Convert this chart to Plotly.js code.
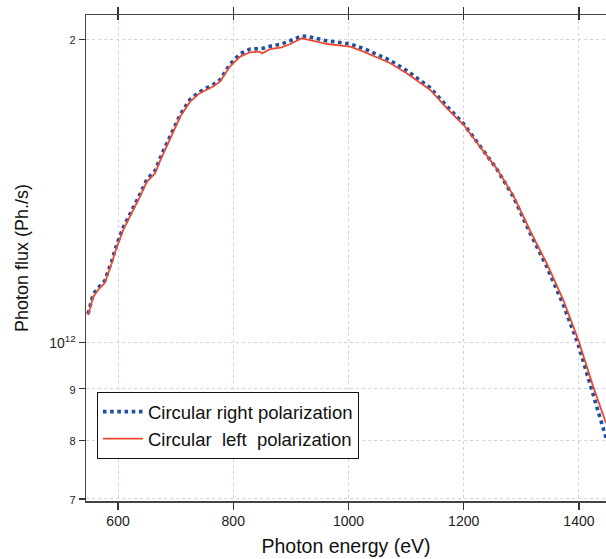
<!DOCTYPE html>
<html>
<head>
<meta charset="utf-8">
<script src="https://cdn.plot.ly/plotly-3.0.1.min.js"></script>
<style>html,body{margin:0;padding:0;background:#fff;}#chart{width:606px;height:559px;}</style>
</head>
<body>
<div id="chart"></div>
<script>
// Photon energy (eV)
const energy = [548,557,568,577,589,598,609,627,638,650,664,676,690,708,725,742,765,777,794,812,829,846,850,864,884,899,919,928,945,963,985,1003,1026,1049,1072,1101,1124,1142,1171,1200,1228,1257,1286,1315,1344,1373,1399,1425,1447];
// Circular right polarization flux (x1e12 Ph./s)
const rightPol = [1.068,1.118,1.137,1.152,1.205,1.252,1.301,1.362,1.403,1.452,1.480,1.538,1.598,1.684,1.743,1.774,1.803,1.822,1.888,1.935,1.955,1.960,1.958,1.968,1.978,1.993,2.015,2.013,2.003,1.992,1.985,1.978,1.958,1.933,1.906,1.862,1.820,1.790,1.716,1.648,1.568,1.488,1.396,1.285,1.190,1.090,0.995,0.888,0.805];
// Circular left polarization flux (x1e12 Ph./s)
const leftPol = [1.065,1.111,1.133,1.146,1.199,1.245,1.294,1.354,1.396,1.444,1.472,1.529,1.589,1.676,1.734,1.768,1.795,1.815,1.879,1.922,1.941,1.944,1.936,1.955,1.963,1.978,2.004,2.000,1.989,1.978,1.973,1.966,1.944,1.919,1.894,1.850,1.809,1.781,1.708,1.644,1.565,1.489,1.400,1.292,1.199,1.102,1.006,0.904,0.832];
const scale = 1e12;
const yTickVals = [7e11, 8e11, 9e11, 1e12, 2e12];
const yTickText = ['<span style="font-size:11px">7</span>','<span style="font-size:11px">8</span>','<span style="font-size:11px">9</span>','10<sup>12</sup>','<span style="font-size:11px">2</span>'];
const xTickVals = [600, 800, 1000, 1200, 1400];

const traces = [
  {x: energy, y: rightPol.map(v => v*scale), type: 'scatter', mode: 'lines', name: 'Circular right polarization',
   line: {color: '#1e4fa3', width: 3.6, dash: 'dot'}},
  {x: energy, y: leftPol.map(v => v*scale), type: 'scatter', mode: 'lines', name: 'Circular  left  polarization',
   line: {color: '#ec4a33', width: 1.8}}
];

const fam = 'Liberation Sans, Arial, sans-serif';
const axisFont = {family: fam, size: 14, color: '#222'};
const layout = {
  width: 606, height: 559,
  margin: {l: 86, r: 0, t: 15, b: 58},
  paper_bgcolor: '#fff', plot_bgcolor: '#fff',
  font: axisFont,
  showlegend: true,
  legend: {x: 0.021, y: 0.224, xanchor: 'left', yanchor: 'top', bgcolor: '#fff', bordercolor: '#111', borderwidth: 1,
           font: {family: fam, size: 18.5, color: '#111'}, tracegroupgap: 0, itemwidth: 40},
  xaxis: {
    range: [544.4, 1447], tickvals: xTickVals, ticks: 'outside', ticklen: 7, tickwidth: 1.3, tickcolor: '#333',
    showline: true, linecolor: '#444', linewidth: 1.5, mirror: 'ticks',
    showgrid: true, gridcolor: '#d0d0ec', griddash: 'dot', gridwidth: 1, zeroline: false,
    tickfont: axisFont,
    title: {text: 'Photon energy (eV)', font: {family: fam, size: 19.5, color: '#111'}, standoff: 11}
  },
  xaxis2: {
    overlaying: 'x', side: 'top', range: [544.4, 1447], tickvals: xTickVals, ticks: 'inside', ticklen: 5, tickwidth: 1.3,
    tickcolor: '#333', showticklabels: false, showline: false, showgrid: false, zeroline: false
  },
  yaxis: {
    type: 'log', range: [11.843, 12.325], tickvals: yTickVals, ticktext: yTickText,
    ticks: 'outside', ticklen: 6, tickwidth: 1.3, tickcolor: '#333',
    showline: true, linecolor: '#444', linewidth: 1.5, mirror: false,
    showgrid: true, gridcolor: '#d0d0ec', griddash: 'dot', gridwidth: 1, zeroline: false,
    tickfont: axisFont, ticklabelstandoff: 0,
    title: {text: 'Photon flux (Ph./s)', font: {family: fam, size: 18, color: '#111'}, standoff: 16}
  }
};
// invisible trace to activate the top axis ticks
traces.push({x: [600], y: [1e12], xaxis: 'x2', yaxis: 'y', mode: 'markers', marker: {opacity: 0}, showlegend: false, hoverinfo: 'skip'});

Plotly.newPlot('chart', traces, layout, {displayModeBar: false, staticPlot: true});
</script>
</body>
</html>
